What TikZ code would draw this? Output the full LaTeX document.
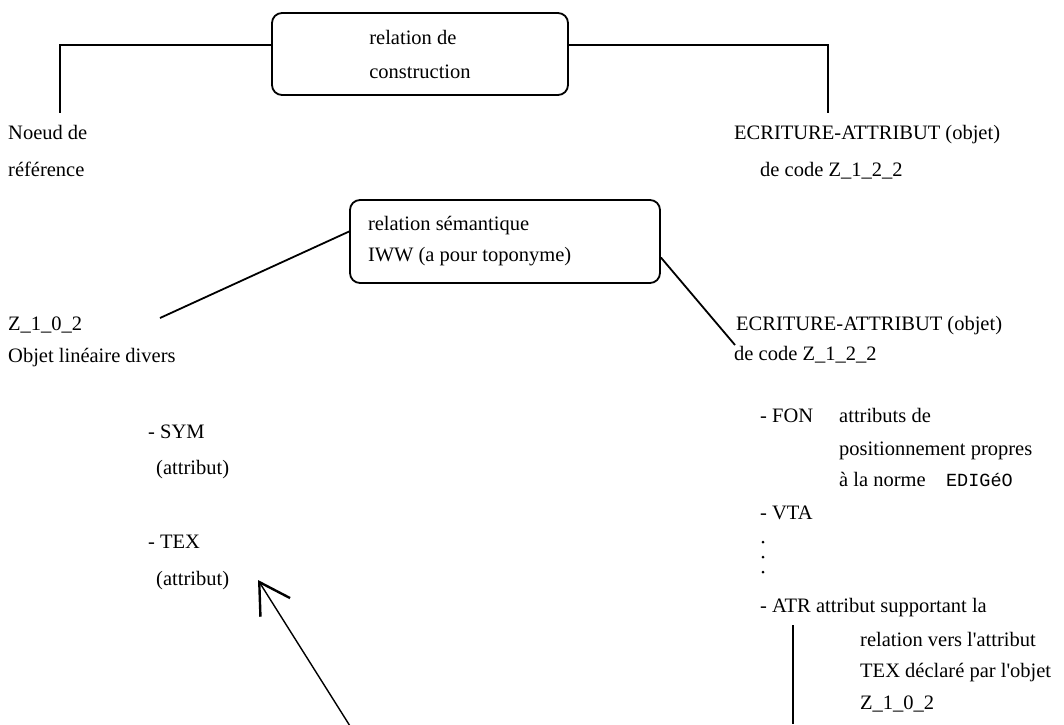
\documentclass[tikz,border=0pt]{standalone}
\usepackage{fontspec}
\setmainfont{Liberation Serif}[Ligatures=TeXOff]
\newfontfamily\monofnt{Liberation Mono}
\usetikzlibrary{arrows.meta}
\begin{document}
\begin{tikzpicture}[x=1pt,y=-1pt,
  txt/.style={anchor=base west,inner sep=0pt,font=\fontsize{20.5}{24}\selectfont},
  rbox/.style={draw,line width=1.8pt,rounded corners=10pt},
  conn/.style={line width=1.8pt},
  arr/.style={line width=1.4pt,-{Straight Barb[length=30pt,width=35pt,line width=2.4pt]}}]
\useasboundingbox (0,0) rectangle (1064,724);
% boxes
\node[rbox,align=left,minimum width=296pt,minimum height=82pt,inner sep=0pt,font=\fontsize{20.5}{34}\selectfont] (b1) at (420,54) {relation de\\construction};
\node[rbox,text width=274pt,align=flush left,minimum height=83pt,inner xsep=18pt,inner ysep=0pt,font=\fontsize{20.5}{31}\selectfont] (b2) at (505,241.5) {relation sémantique\\IWW (a pour toponyme)};
% top texts
\node[txt] (n1) at (8,139) {Noeud de};
\node[txt] (n2) at (8,176) {référence};
\node[txt] (e1) at (734,139) {ECRITURE-ATTRIBUT (objet)};
\node[txt] (e2) at (760,176) {de code Z\_1\_2\_2};
% left
\node[txt] (z1) at (8,330) {Z\_1\_0\_2};
\node[txt] (z2) at (8,362) {Objet linéaire divers};
\node[txt] (s1) at (148,438) {- SYM};
\node[txt] (s2) at (156,474) {(attribut)};
\node[txt] (t1) at (148,548) {- TEX};
\node[txt] (t2) at (156,585) {(attribut)};
% right
\node[txt] (r1) at (736,330) {ECRITURE-ATTRIBUT (objet)};
\node[txt] (r2) at (734,360) {de code Z\_1\_2\_2};
\node[txt] (f1) at (760,422) {- FON};
\node[txt] (f2) at (839,422) {attributs de};
\node[txt] (f3) at (839,455) {positionnement propres};
\node[txt] (f4) at (839,486) {à la norme};
\node[txt,font=\monofnt\fontsize{18.5}{24}\selectfont,anchor=base west] (f5) at ([xshift=20pt]f4.base east) {EDIGéO};
\node[txt] (v1) at (760,519) {- VTA};
\fill (763,542) circle (1.5pt) (763,557) circle (1.5pt) (763,572) circle (1.5pt);
\node[txt] (a1) at (760,612) {- ATR attribut supportant la};
\node[txt] (a2) at (860,646) {relation vers l'attribut};
\node[txt] (a3) at (860,677) {TEX déclaré par l'objet};
\node[txt] (a4) at (860,709) {Z\_1\_0\_2};
% connector points
\coordinate (lc) at (60,113);
\coordinate (rc) at (828,113);
\coordinate (zl) at (160,318);
\coordinate (zr) at (735,345);
\coordinate (va) at (793,625);
\coordinate (vb) at (793,724);
\coordinate (at) at (350,726);
\coordinate (ah) at (258,580);
% connectors
\draw[conn] ([yshift=9pt]b1.west) -| (lc);
\draw[conn] ([yshift=9pt]b1.east) -| (rc);
\draw[conn] ([yshift=10pt]b2.west) -- (zl);
\draw[conn] ([yshift=-16pt]b2.east) -- (zr);
\draw[conn] (va) -- (vb);
\draw[arr] (at) -- (ah);
\end{tikzpicture}
\end{document}
